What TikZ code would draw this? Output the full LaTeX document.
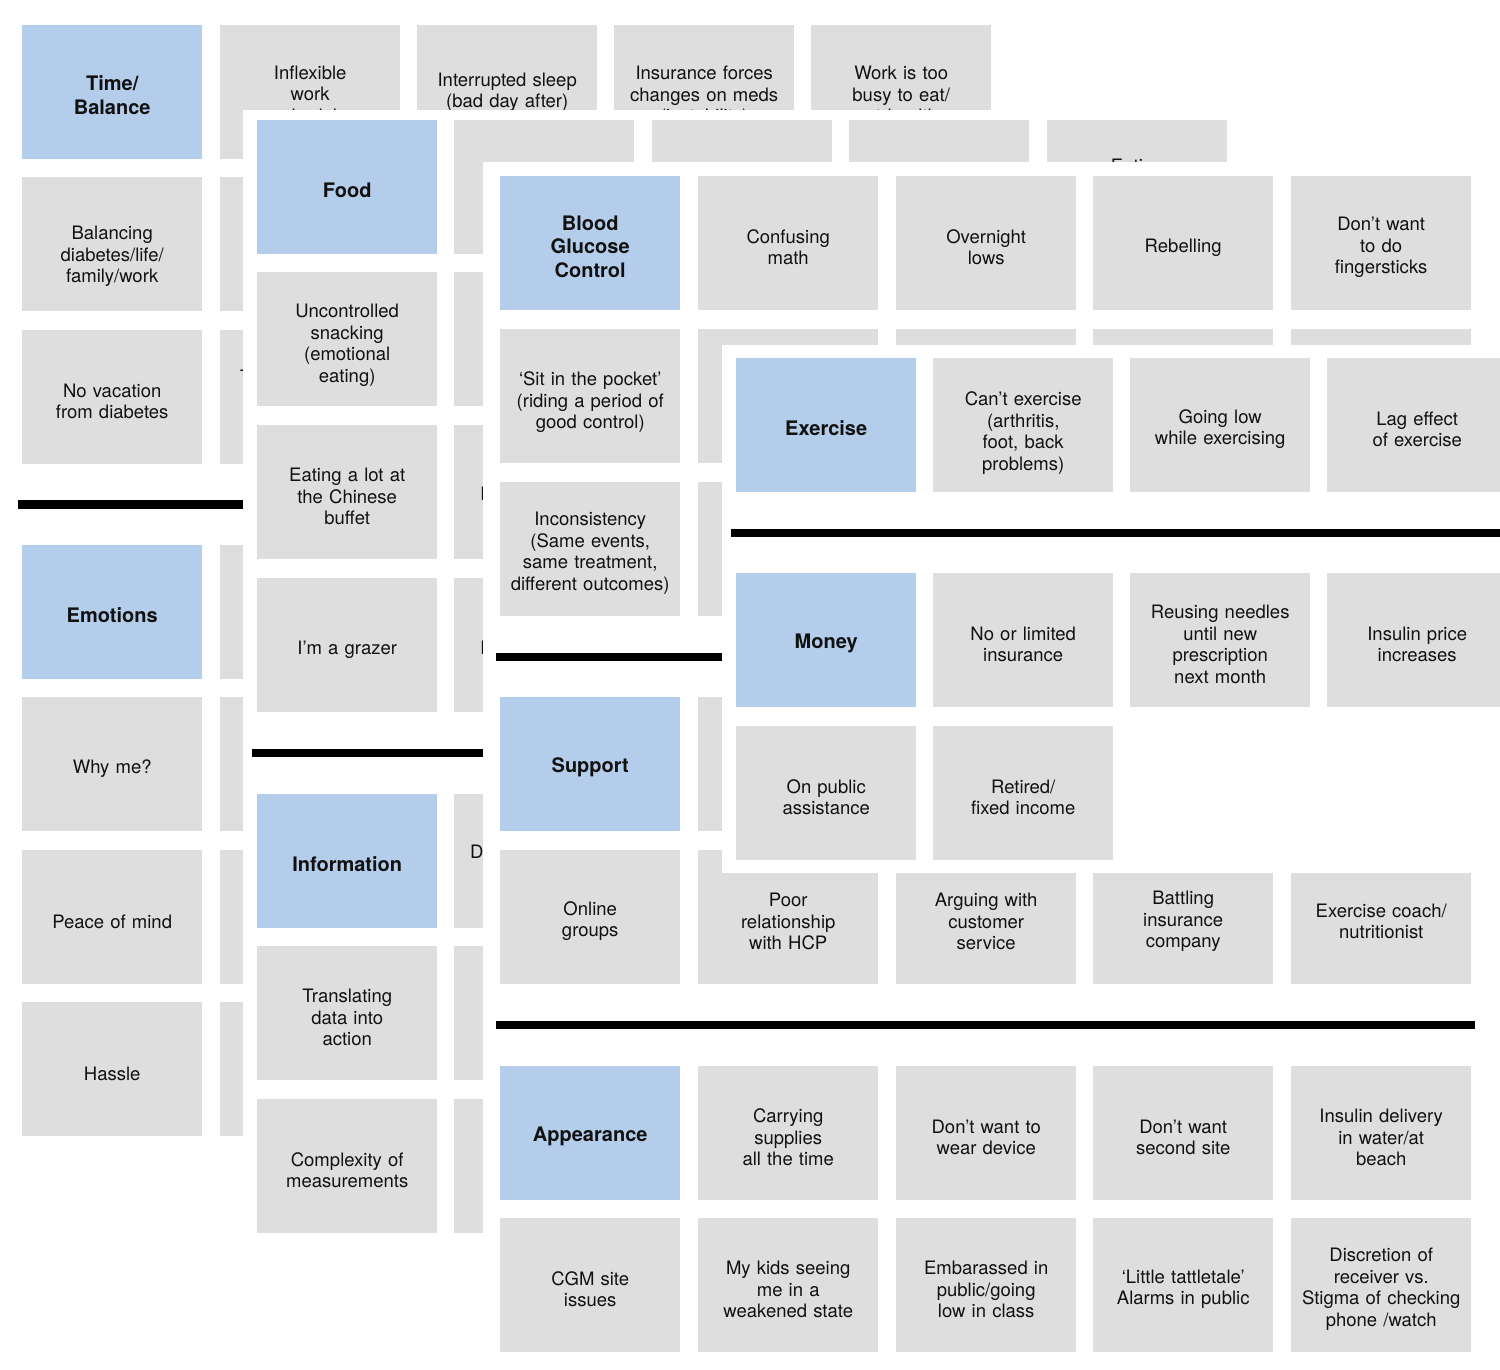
\documentclass[tikz,border=0pt]{standalone}
\usepackage{fontspec}
\setmainfont{TeX Gyre Heros}
\definecolor{cardgray}{HTML}{DEDEDE}
\definecolor{cardblue}{HTML}{B4CDEA}
\definecolor{ink}{HTML}{111111}
\begin{document}
\begin{tikzpicture}[x=1pt,y=-1pt,
  cardbase/.style={fill=cardgray, anchor=north west, minimum width=180pt, minimum height=134pt,
    inner sep=0pt, text width=174pt, align=center, text=ink,
    font=\fontsize{18.5}{21.5}\selectfont},
  card/.style={cardbase, execute at begin node={\rule{0pt}{#1}}},
  card/.default=22pt,
  head/.style={cardbase, fill=cardblue, font=\fontsize{20}{23.5}\selectfont\bfseries,
    execute at begin node={\rule{0pt}{#1}}},
  head/.default=21pt,
  frag/.style={anchor=base west, inner sep=0pt, text=ink, font=\fontsize{18.5}{21.5}\selectfont},
  bar/.style={fill=black},
  panel/.style={fill=white}]
\useasboundingbox (0,0) rectangle (1500,1370);
\fill[white] (0,0) rectangle (1500,1370);

% ---------------- Panel 1 (Time/Balance, Emotions)
\node[head] (p1h1) at (22,25) {Time/\\Balance};
\node[card=17pt] (p1a2) at (220,25) {Inflexible\\work\\schedule};
\node[card=0pt] (p1a3) at (417,25) {Interrupted sleep\\(bad day after)};
\node[card] (p1a4) at (614,25) {Insurance forces\\changes on meds\\(instability)};
\node[card] (p1a5) at (811,25) {Work is too\\busy to eat/\\eat healthy};
\node[card=38pt] (p1b1) at (22,177) {Balancing\\diabetes/life/\\family/work};
\node[card] (p1b2) at (220,177) {};
\node[card] (p1c1) at (22,330) {No vacation\\from diabetes};
\node[card] (p1c2) at (220,330) {};
\node[frag] (p1c2t) at (240,383) {T};
\fill[bar] (18,500) rectangle (995,509);
\node[head] (p1h2) at (22,545) {Emotions};
\node[card] (p1d2) at (220,545) {};
\node[card] (p1e1) at (22,697) {Why me?};
\node[card] (p1e2) at (220,697) {};
\node[card] (p1f1) at (22,850) {Peace of mind};
\node[card] (p1f2) at (220,850) {};
\node[card] (p1g1) at (22,1002) {Hassle};
\node[card] (p1g2) at (220,1002) {};

% ---------------- Panel 2 (Food, Information)
\fill[panel] (243,110) rectangle (1500,1370);
\node[head] (p2h1) at (257,120) {Food};
\node[card] (p2a2) at (454,120) {};
\node[card] (p2a3) at (652,120) {};
\node[card] (p2a4) at (849,120) {};
\node[card=0pt] (p2a5) at (1047,120) {Eating\\out at\\restaurants};
\node[card=26pt] (p2b1) at (257,272) {Uncontrolled\\snacking\\(emotional\\eating)};
\node[card] (p2b2) at (454,272) {};
\node[card] (p2c1) at (257,425) {Eating a lot at\\the Chinese\\buffet};
\node[card] (p2c2) at (454,425) {};
\node[frag] (p2c2t) at (480,500.5) {I};
\node[card] (p2d1) at (257,578) {I’m a grazer};
\node[card] (p2d2) at (454,578) {};
\node[frag] (p2d2t) at (480,654) {I};
\fill[bar] (252,749) rectangle (1230,757);
\node[head] (p2h2) at (257,794) {Information};
\node[card] (p2e2) at (454,794) {};
\node[frag] (p2e2t) at (470,858.5) {D};
\node[card] (p2f1) at (257,946) {Translating\\data into\\action};
\node[card] (p2f2) at (454,946) {};
\node[card] (p2g1) at (257,1099) {Complexity of\\measurements};
\node[card] (p2g2) at (454,1099) {};

% ---------------- Panel 3 (Blood Glucose Control, Support, Appearance)
\fill[panel] (483,162) rectangle (1500,1370);
\node[head] (p3h1) at (500,176) {Blood\\Glucose\\Control};
\node[card] (p3a2) at (698,176) {Confusing\\math};
\node[card] (p3a3) at (896,176) {Overnight\\lows};
\node[card] (p3a4) at (1093,176) {Rebelling};
\node[card] (p3a5) at (1291,176) {Don’t want\\to do\\fingersticks};
\node[card=26pt] (p3b1) at (500,329) {‘Sit in the pocket’\\(riding a period of\\good control)};
\node[card] (p3b2) at (698,329) {};
\node[card] (p3b3) at (896,329) {};
\node[card] (p3b4) at (1093,329) {};
\node[card] (p3b5) at (1291,329) {};
\node[card] (p3c1) at (500,482) {Inconsistency\\(Same events,\\same treatment,\\different outcomes)};
\node[card] (p3c2) at (698,482) {};
\fill[bar] (496,653) rectangle (1475,661);
\node[head] (p3h2) at (500,697) {Support};
\node[card] (p3d2) at (698,697) {};
\node[card] (p3e1) at (500,850) {Online\\groups};
\node[card] (p3e2) at (698,850) {Poor\\relationship\\with HCP};
\node[card] (p3e3) at (896,850) {Arguing with\\customer\\service};
\node[card] (p3e4) at (1093,850) {Battling\\insurance\\company};
\node[card] (p3e5) at (1291,850) {Exercise coach/\\nutritionist};
\fill[bar] (496,1021) rectangle (1475,1029);
\node[head] (p3h3) at (500,1066) {Appearance};
\node[card] (p3f2) at (698,1066) {Carrying\\supplies\\all the time};
\node[card] (p3f3) at (896,1066) {Don’t want to\\wear device};
\node[card] (p3f4) at (1093,1066) {Don’t want\\second site};
\node[card] (p3f5) at (1291,1066) {Insulin delivery\\in water/at\\beach};
\node[card] (p3g1) at (500,1218) {CGM site\\issues};
\node[card] (p3g2) at (698,1218) {My kids seeing\\me in a\\weakened state};
\node[card] (p3g3) at (896,1218) {Embarassed in\\public/going\\low in class};
\node[card] (p3g4) at (1093,1218) {‘Little tattletale’\\Alarms in public};
\node[card] (p3g5) at (1291,1218) {Discretion of\\receiver vs.\\Stigma of checking\\phone /watch};

% ---------------- Panel 4 (Exercise, Money)
\fill[panel] (722,345) rectangle (1500,873);
\node[head] (p4h1) at (736,358) {Exercise};
\node[card=30pt] (p4a2) at (933,358) {Can’t exercise\\(arthritis,\\foot, back\\problems)};
\node[card] (p4a3) at (1130,358) {Going low\\while exercising};
\node[card] (p4a4) at (1327,358) {Lag effect\\of exercise};
\fill[bar] (731,529) rectangle (1500,537);
\node[head] (p4h2) at (736,573) {Money};
\node[card] (p4b2) at (933,573) {No or limited\\insurance};
\node[card] (p4b3) at (1130,573) {Reusing needles\\until new\\prescription\\next month};
\node[card] (p4b4) at (1327,573) {Insulin price\\increases};
\node[card] (p4c1) at (736,726) {On public\\assistance};
\node[card] (p4c2) at (933,726) {Retired/\\fixed income};
\end{tikzpicture}
\end{document}
